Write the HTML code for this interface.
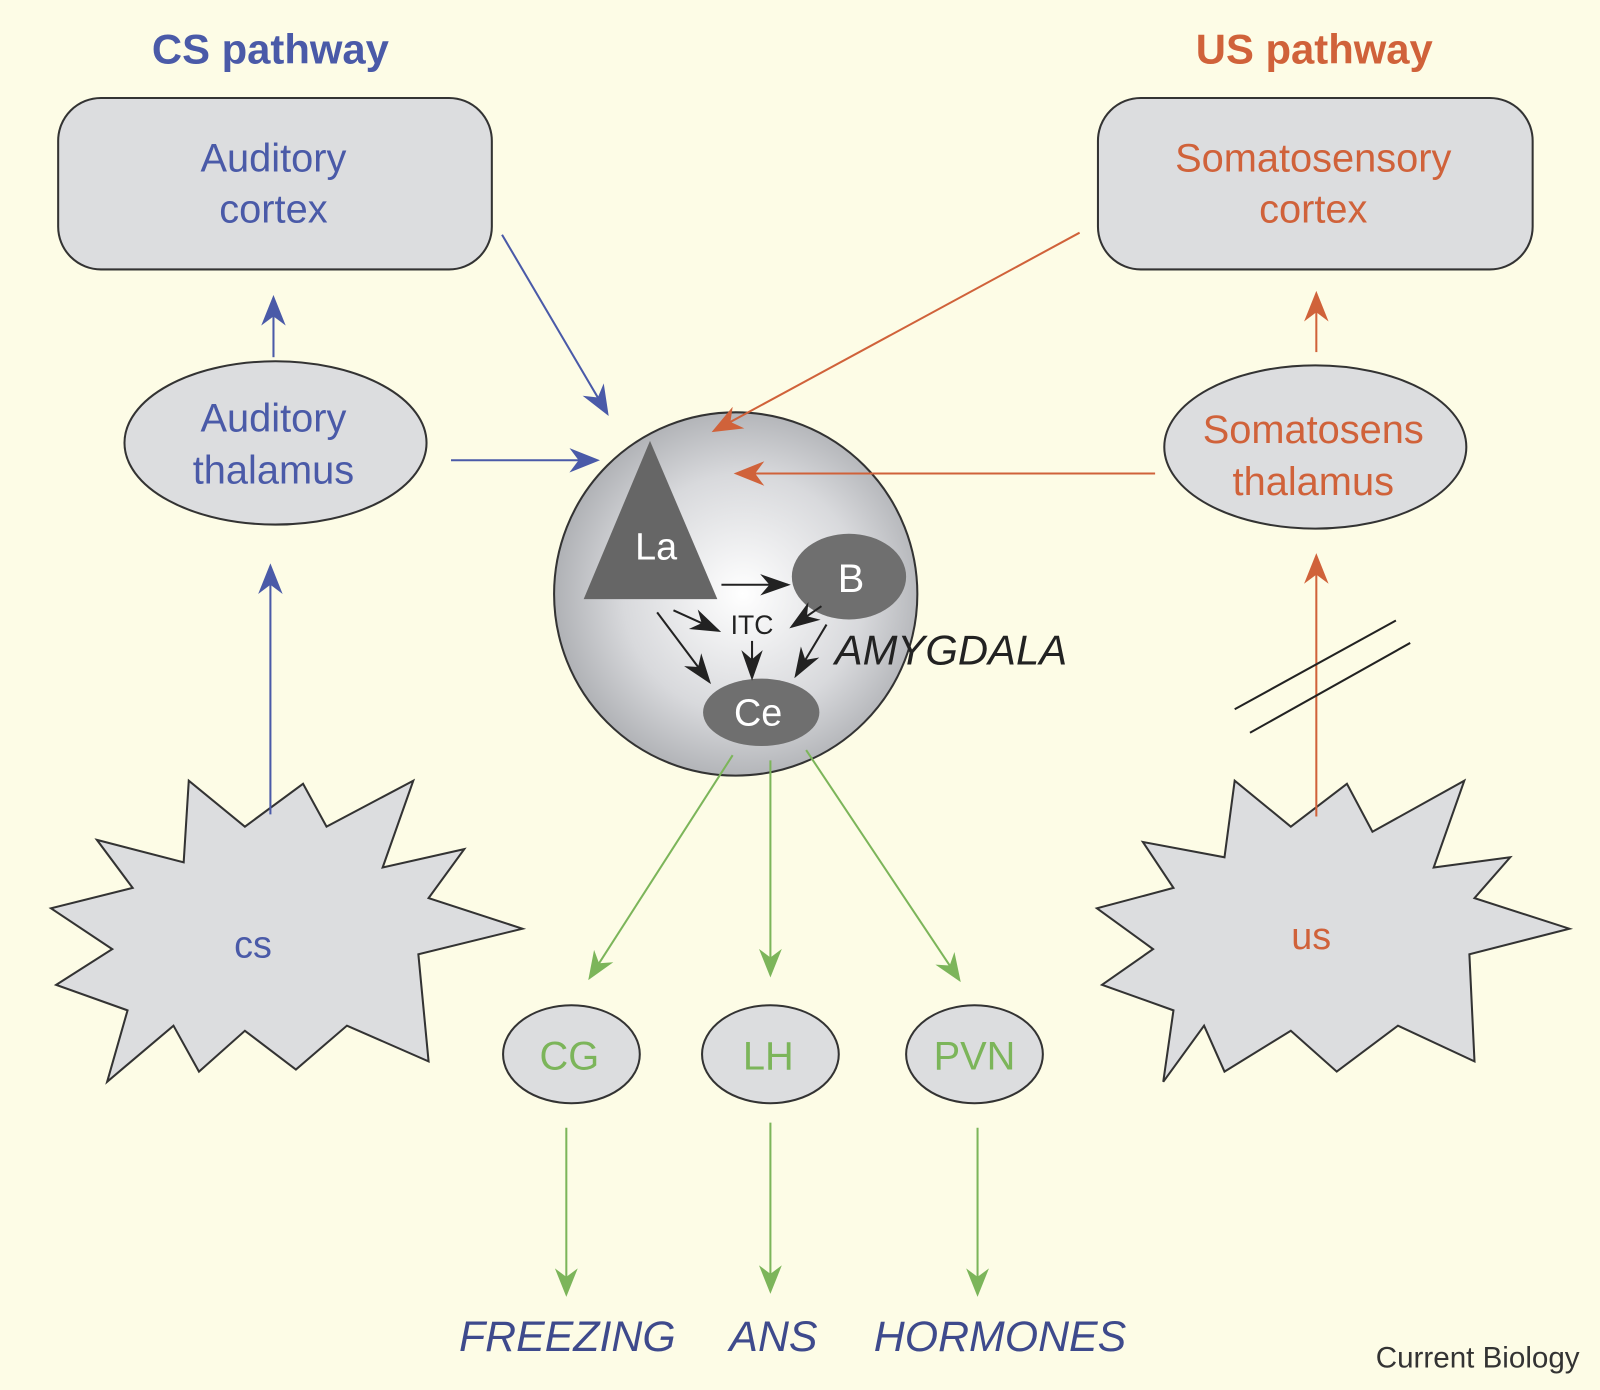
<!DOCTYPE html>
<html><head><meta charset="utf-8"><style>
html,body{margin:0;padding:0;background:#fdfce6;}
svg{display:block;}
text{font-family:"Liberation Sans",sans-serif;}
</style></head><body>
<svg width="1600" height="1390" viewBox="0 0 1568 1362" preserveAspectRatio="none" xmlns="http://www.w3.org/2000/svg">
<defs>
<radialGradient id="g" cx="0.52" cy="0.5" r="0.55">
<stop offset="0" stop-color="#ffffff"/><stop offset="0.6" stop-color="#d8d9dc"/><stop offset="1" stop-color="#a9abaf"/>
</radialGradient>
<marker id="ao" viewBox="0 0 10 10" refX="9" refY="5" markerWidth="30" markerHeight="30" orient="auto" markerUnits="userSpaceOnUse"><path d="M0,1 L10,5 L0,9 L3,5Z" fill="#d0623a"/></marker>
<marker id="ab2" viewBox="0 0 10 10" refX="9" refY="5" markerWidth="30" markerHeight="30" orient="auto" markerUnits="userSpaceOnUse"><path d="M0,1 L10,5 L0,9 L3,5Z" fill="#4a5aa8"/></marker>
<marker id="ag" viewBox="0 0 10 10" refX="9" refY="5" markerWidth="28" markerHeight="28" orient="auto" markerUnits="userSpaceOnUse"><path d="M0,1 L10,5 L0,9 L3,5Z" fill="#7cb55a"/></marker>
<marker id="ak" viewBox="0 0 10 10" refX="9" refY="5" markerWidth="30" markerHeight="30" orient="auto" markerUnits="userSpaceOnUse"><path d="M0,1.5 L10,5 L0,8.5 L3,5Z" fill="#222"/></marker>
</defs>
<rect width="1568" height="1362" fill="#fdfce6"/>
<text x="265" y="62" font-size="41" font-weight="bold" fill="#4a5aa8" text-anchor="middle">CS pathway</text>
<text x="1288" y="62" font-size="41" font-weight="bold" fill="#d0623a" text-anchor="middle">US pathway</text>
<rect x="57" y="96" width="425" height="168" rx="42" fill="#dcdddf" stroke="#333" stroke-width="2"/>
<text x="268" y="168" font-size="39" fill="#4a5aa8" text-anchor="middle">Auditory</text>
<text x="268" y="218" font-size="39" fill="#4a5aa8" text-anchor="middle">cortex</text>
<rect x="1076" y="96" width="426" height="168" rx="42" fill="#dcdddf" stroke="#333" stroke-width="2"/>
<text x="1287" y="168" font-size="39" fill="#d0623a" text-anchor="middle">Somatosensory</text>
<text x="1287" y="218" font-size="39" fill="#d0623a" text-anchor="middle">cortex</text>
<ellipse cx="270" cy="434" rx="148" ry="80" fill="#dcdddf" stroke="#333" stroke-width="2"/>
<text x="268" y="423" font-size="39" fill="#4a5aa8" text-anchor="middle">Auditory</text>
<text x="268" y="474" font-size="39" fill="#4a5aa8" text-anchor="middle">thalamus</text>
<ellipse cx="1289" cy="438" rx="148" ry="80" fill="#dcdddf" stroke="#333" stroke-width="2"/>
<text x="1287" y="434" font-size="39" fill="#d0623a" text-anchor="middle">Somatosens</text>
<text x="1287" y="485" font-size="39" fill="#d0623a" text-anchor="middle">thalamus</text>
<polygon points="95,823 180,845 185,765 240,810 297,768 320,810 405,765 375,850 455,832 420,880 512,910 410,935 420,1040 340,1005 290,1048 240,1010 195,1050 170,1005 105,1060 125,990 55,965 110,930 50,890 130,870" fill="#dcdddf" stroke="#333" stroke-width="2"/>
<text x="248" y="938" font-size="37" fill="#4a5aa8" text-anchor="middle">cs</text>
<polygon points="1120,825 1200,840 1210,765 1265,810 1320,768 1345,815 1435,765 1405,850 1480,840 1445,880 1538,910 1440,935 1445,1040 1370,1005 1310,1050 1265,1010 1200,1050 1180,1005 1140,1060 1150,990 1080,965 1130,930 1075,890 1150,870" fill="#dcdddf" stroke="#333" stroke-width="2"/>
<text x="1285" y="930" font-size="37" fill="#d0623a" text-anchor="middle">us</text>
<circle cx="721" cy="582" r="178" fill="url(#g)" stroke="#333" stroke-width="2"/>
<polygon points="572,587 637,432 703,587" fill="#666"/>
<text x="643" y="548" font-size="37" fill="#fff" text-anchor="middle">La</text>
<ellipse cx="832" cy="565" rx="56" ry="42" fill="#6f6f6f"/>
<text x="834" y="580" font-size="39" fill="#fff" text-anchor="middle">B</text>
<ellipse cx="746" cy="698" rx="57" ry="33" fill="#6f6f6f"/>
<text x="743" y="711" font-size="37" fill="#fff" text-anchor="middle">Ce</text>
<text x="737" y="621" font-size="26" fill="#222" text-anchor="middle">ITC</text>
<text x="818" y="651" font-size="41" font-style="italic" fill="#222">AMYGDALA</text>
<g stroke="#222" stroke-width="2" fill="none" marker-end="url(#ak)">
<line x1="707" y1="573" x2="772" y2="573"/>
<line x1="660" y1="598" x2="704" y2="618"/>
<line x1="805" y1="594" x2="776" y2="614"/>
<line x1="644" y1="600" x2="695" y2="668"/>
<line x1="737" y1="628" x2="737" y2="664"/>
<line x1="810" y1="612" x2="780" y2="662"/>
</g>
<g stroke="#4a5aa8" stroke-width="2" marker-end="url(#ab2)">
<line x1="265" y1="798" x2="265" y2="555"/>
<line x1="268" y1="350" x2="268" y2="292"/>
<line x1="442" y1="451" x2="585" y2="451"/>
<line x1="492" y1="230" x2="595" y2="405"/>
</g>
<g stroke="#d0623a" stroke-width="2" marker-end="url(#ao)">
<line x1="1058" y1="228" x2="700" y2="422"/>
<line x1="1132" y1="464" x2="722" y2="464"/>
<line x1="1290" y1="345" x2="1290" y2="288"/>
<line x1="1290" y1="800" x2="1290" y2="545"/>
</g>
<line x1="1210" y1="695" x2="1368" y2="608" stroke="#222" stroke-width="2"/>
<line x1="1225" y1="718" x2="1382" y2="630" stroke="#222" stroke-width="2"/>
<g stroke="#7cb55a" stroke-width="2" marker-end="url(#ag)">
<line x1="718" y1="740" x2="578" y2="958"/>
<line x1="755" y1="745" x2="755" y2="955"/>
<line x1="790" y1="735" x2="940" y2="960"/>
<line x1="555" y1="1105" x2="555" y2="1268"/>
<line x1="755" y1="1100" x2="755" y2="1265"/>
<line x1="958" y1="1105" x2="958" y2="1268"/>
</g>
<g fill="#dcdddf" stroke="#333" stroke-width="2">
<ellipse cx="560" cy="1033" rx="67" ry="48"/>
<ellipse cx="755" cy="1033" rx="67" ry="48"/>
<ellipse cx="955" cy="1033" rx="67" ry="48"/>
</g>
<g font-size="39" fill="#7cb55a" text-anchor="middle">
<text x="558" y="1048">CG</text><text x="753" y="1048">LH</text><text x="955" y="1048">PVN</text>
</g>
<g font-size="42" font-style="italic" fill="#3e4a8c" text-anchor="middle">
<text x="556" y="1324">FREEZING</text><text x="758" y="1324">ANS</text><text x="980" y="1324">HORMONES</text>
</g>
<text x="1548" y="1340" font-size="29" fill="#333" text-anchor="end">Current Biology</text>
</svg>
</body></html>
